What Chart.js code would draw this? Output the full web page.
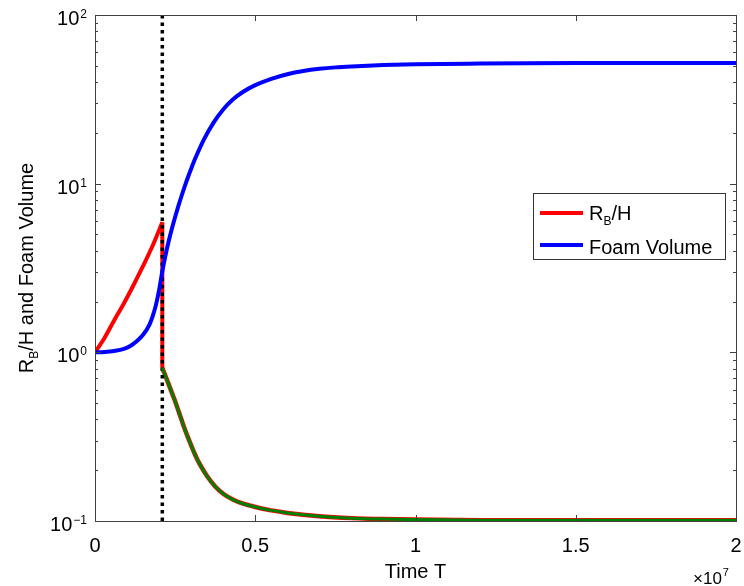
<!DOCTYPE html>
<html>
<head>
<meta charset="utf-8">
<title>RB/H and Foam Volume vs Time</title>
<script src="https://cdn.jsdelivr.net/npm/chart.js@4/dist/chart.umd.min.js"></script>
<style>
  html, body { margin: 0; padding: 0; background: #fff; }
  #chart { display: block; }
</style>
</head>
<body>
<canvas id="chart" width="744" height="586"></canvas>
<script>
// Time in units of 1e7, values on a log axis

// R_B/H before the switch (rising part)
const RED_RISE_T = [0, 0.03, 0.06, 0.09, 0.12, 0.15, 0.18, 0.21];
const RED_RISE_V = [1.0, 1.22, 1.55, 1.95, 2.5, 3.25, 4.3, 5.9];

// vertical drop at the switch time
const DROP_T = [0.21, 0.21];
const DROP_V = [5.9, 0.81];

// R_B/H after the switch (the green curve lies on top of it)
const DECAY_T = [0.21, 0.22, 0.23, 0.24, 0.25, 0.26, 0.27, 0.28, 0.29, 0.30, 0.31, 0.32, 0.33, 0.35, 0.375, 0.40, 0.43, 0.46, 0.50, 0.55, 0.6, 0.7, 0.8, 0.9, 1.0, 1.2, 1.5, 2.0];
const DECAY_V = [0.809, 0.724, 0.646, 0.575, 0.513, 0.452, 0.398, 0.351, 0.313, 0.281, 0.253, 0.230, 0.212, 0.184, 0.160, 0.145, 0.134, 0.127, 0.121, 0.1156, 0.1117, 0.1067, 0.104, 0.1026, 0.1019, 0.1012, 0.101, 0.101];

// Foam volume
const FOAM_T = [0, 0.03, 0.06, 0.09, 0.11, 0.13, 0.15, 0.17, 0.18, 0.19, 0.20, 0.21, 0.22, 0.23, 0.24, 0.25, 0.26, 0.27, 0.28, 0.29, 0.30, 0.31, 0.34, 0.37, 0.40, 0.43, 0.46, 0.50, 0.55, 0.60, 0.65, 0.70, 0.75, 0.80, 0.90, 1.0, 1.2, 1.5, 2.0];
const FOAM_V = [1.0, 1.005, 1.019, 1.047, 1.09, 1.164, 1.27, 1.46, 1.64, 1.905, 2.34, 3.02, 3.76, 4.57, 5.43, 6.35, 7.36, 8.45, 9.64, 10.91, 12.27, 13.71, 18.32, 23.01, 27.54, 31.51, 34.83, 38.37, 41.83, 44.57, 46.56, 47.97, 48.92, 49.55, 50.47, 51.05, 51.52, 51.88, 52.0];

// switch time marker
const SWITCH_T = 0.21;

const X_TICKS = [0, 0.5, 1, 1.5, 2];
const X_TICK_LABELS = ['0', '0.5', '1', '1.5', '2'];
const Y_DECADES = [0.1, 1, 10, 100];
const Y_EXPONENTS = ['\u22121', '0', '1', '2'];

const FONT = "'Liberation Sans', Arial, Helvetica, sans-serif";

function pts(ts, vs) {
  return ts.map((t, i) => ({ x: t, y: vs[i] }));
}

// axes box, inward ticks, tick labels, titles and legend
const frame = {
  id: 'frame',
  afterDatasetsDraw(chart) {
    const ctx = chart.ctx;
    const a = chart.chartArea;
    const xs = chart.scales.x;
    const ys = chart.scales.y;
    ctx.save();

    // box
    ctx.strokeStyle = '#404040';
    ctx.lineWidth = 1;
    ctx.strokeRect(a.left + 0.5, a.top + 0.5, a.right - a.left, a.bottom - a.top);

    // y ticks: majors and minors, both sides
    ctx.beginPath();
    for (let d = 0; d < Y_DECADES.length; d++) {
      const base = Y_DECADES[d];
      for (let m = 1; m <= 9; m++) {
        const v = base * m;
        if (v > 100.0001) break;
        const py = Math.round(ys.getPixelForValue(v)) + 0.5;
        const len = m === 1 ? 6 : 3;
        ctx.moveTo(a.left, py); ctx.lineTo(a.left + len, py);
        ctx.moveTo(a.right, py); ctx.lineTo(a.right - len, py);
      }
    }
    // x ticks, top and bottom
    X_TICKS.forEach(t => {
      const px = Math.round(xs.getPixelForValue(t)) + 0.5;
      ctx.moveTo(px, a.bottom); ctx.lineTo(px, a.bottom - 6);
      ctx.moveTo(px, a.top); ctx.lineTo(px, a.top + 6);
    });
    ctx.stroke();

    ctx.fillStyle = '#000';

    // x tick labels
    ctx.font = '20px ' + FONT;
    ctx.textAlign = 'center';
    ctx.textBaseline = 'alphabetic';
    X_TICKS.forEach((t, i) => {
      ctx.fillText(X_TICK_LABELS[i], xs.getPixelForValue(t), a.bottom + 31);
    });

    // y tick labels 10^n
    Y_DECADES.forEach((v, i) => {
      const py = ys.getPixelForValue(v);
      ctx.font = '12px ' + FONT;
      ctx.textAlign = 'right';
      const supW = ctx.measureText(Y_EXPONENTS[i]).width;
      const right = 87;
      ctx.fillText(Y_EXPONENTS[i], right, py + 3);
      ctx.font = '20px ' + FONT;
      ctx.fillText('10', right - supW - 1, py + 10);
    });

    // x axis title
    ctx.font = '20px ' + FONT;
    ctx.textAlign = 'center';
    ctx.fillText('Time T', (a.left + a.right) / 2, 578);

    // x multiplier
    ctx.textAlign = 'left';
    ctx.font = '17px ' + FONT;
    ctx.fillText('\u00d710', 693, 584);
    const mw = ctx.measureText('\u00d710').width;
    ctx.font = '11px ' + FONT;
    ctx.fillText('7', 693 + mw + 1, 576);

    // y axis title, rotated, with subscript B
    ctx.save();
    ctx.translate(33, (a.top + a.bottom) / 2);
    ctx.rotate(-Math.PI / 2);
    const parts = [
      { t: 'R', f: '20px', dy: 0 },
      { t: 'B', f: '12px', dy: 5 },
      { t: '/H and Foam Volume', f: '20px', dy: 0 }
    ];
    let total = 0;
    parts.forEach(p => { ctx.font = p.f + ' ' + FONT; p.w = ctx.measureText(p.t).width; total += p.w; });
    let cx = -total / 2;
    ctx.textAlign = 'left';
    parts.forEach(p => {
      ctx.font = p.f + ' ' + FONT;
      ctx.fillText(p.t, cx, p.dy);
      cx += p.w;
    });
    ctx.restore();

    // legend
    const lx = 533, ly = 193, lw = 192, lh = 66;
    ctx.fillStyle = '#fff';
    ctx.fillRect(lx, ly, lw, lh);
    ctx.strokeStyle = '#333';
    ctx.lineWidth = 1;
    ctx.strokeRect(lx + 0.5, ly + 0.5, lw, lh);

    ctx.lineWidth = 4;
    ctx.strokeStyle = '#ff0000';
    ctx.beginPath(); ctx.moveTo(540, 213); ctx.lineTo(583, 213); ctx.stroke();
    ctx.strokeStyle = '#0000ff';
    ctx.beginPath(); ctx.moveTo(540, 245); ctx.lineTo(583, 245); ctx.stroke();

    ctx.fillStyle = '#000';
    ctx.textAlign = 'left';
    ctx.font = '20px ' + FONT;
    ctx.fillText('R', 589, 220);
    let rw = ctx.measureText('R').width;
    ctx.font = '12px ' + FONT;
    ctx.fillText('B', 589 + rw, 225);
    let bw = ctx.measureText('B').width;
    ctx.font = '20px ' + FONT;
    ctx.fillText('/H', 589 + rw + bw, 220);
    ctx.fillText('Foam Volume', 589, 254);

    ctx.restore();
  }
};

function initChart() {
  const ctx = document.getElementById('chart').getContext('2d');
  new Chart(ctx, {
    type: 'line',
    data: {
      datasets: [
        {
          label: 'R_B/H (after switch)',
          data: pts(DECAY_T, DECAY_V),
          borderColor: '#008000',
          borderWidth: 3,
          cubicInterpolationMode: 'monotone'
        },
        {
          label: 'Foam Volume',
          data: pts(FOAM_T, FOAM_V),
          borderColor: '#0000ff',
          borderWidth: 4,
          cubicInterpolationMode: 'monotone'
        },
        {
          label: 'switch',
          data: [{ x: SWITCH_T, y: 100 }, { x: SWITCH_T, y: 0.1 }],
          borderColor: '#000',
          borderWidth: 3.5,
          borderDash: [3.5, 4],
          borderCapStyle: 'butt'
        },
        {
          label: 'R_B/H',
          data: pts(RED_RISE_T, RED_RISE_V),
          borderColor: '#ff0000',
          borderWidth: 4,
          cubicInterpolationMode: 'monotone'
        },
        {
          label: 'R_B/H drop',
          data: pts(DROP_T, DROP_V),
          borderColor: '#ff0000',
          borderWidth: 4
        },
        {
          label: 'R_B/H decay',
          data: pts(DECAY_T, DECAY_V),
          borderColor: '#ff0000',
          borderWidth: 4.5,
          cubicInterpolationMode: 'monotone'
        }
      ]
    },
    options: {
      responsive: false,
      animation: false,
      devicePixelRatio: 1,
      parsing: true,
      elements: { point: { radius: 0, hoverRadius: 0 }, line: { fill: false } },
      layout: { padding: { left: 95, top: 15, right: 8, bottom: 65 } },
      plugins: { legend: { display: false }, tooltip: { enabled: false } },
      scales: {
        x: { type: 'linear', min: 0, max: 2, display: false },
        y: { type: 'logarithmic', min: 0.1, max: 100, display: false }
      }
    },
    plugins: [frame]
  });
}

document.addEventListener('DOMContentLoaded', initChart);
</script>
</body>
</html>
